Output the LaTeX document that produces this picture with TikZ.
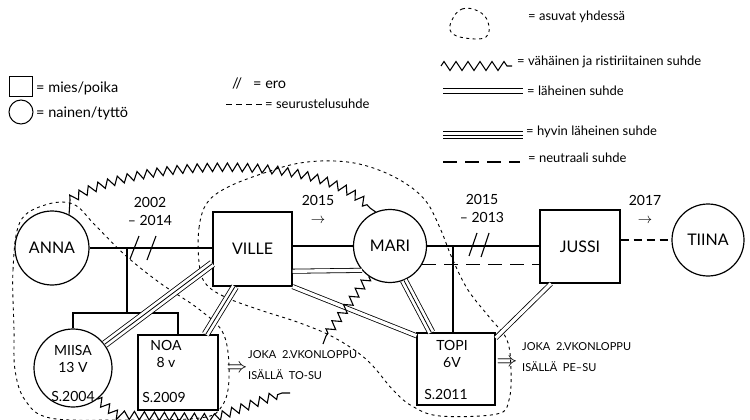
\documentclass[tikz,border=0pt]{standalone}
\usepackage{fontspec}
\setmainfont{Lato}
\usetikzlibrary{decorations.pathmorphing,calc}
\begin{document}
\begin{tikzpicture}[x=1pt,y=-1pt,
  person/.style={draw, line width=1.2pt, inner sep=0pt, font=\fontsize{16}{18}\selectfont, align=center},
  male/.style={person, rectangle},
  female/.style={person, circle},
  rel/.style={line width=1.1pt},
  closerel/.style={line width=0.8pt, double, double distance=3.4pt},
  triplerel/.style={line width=0.8pt, double, double distance=6.4pt},
  thinrel/.style={line width=0.8pt},
  zz/.style={decoration={zigzag, segment length=10pt, amplitude=4.2pt}},
  lives/.style={line width=0.9pt, dash pattern=on 3pt off 3.5pt},
  neutral/.style={line width=1.1pt, dash pattern=on 14pt off 8pt},
  dating/.style={line width=1.2pt, dash pattern=on 8pt off 5pt},
  lbl/.style={font=\fontsize{14}{18}\selectfont, align=center, inner sep=0pt},
  ann/.style={font=\fontsize{11}{13}\selectfont, anchor=west, inner sep=0pt},
  inlbl/.style={font=\fontsize{14}{17}\selectfont, align=center, inner sep=0pt},
  leg/.style={font=\fontsize{13}{14}\selectfont, anchor=west, inner sep=0pt},
  legl/.style={font=\fontsize{14.5}{15}\selectfont, anchor=west, inner sep=0pt},
  bigarrow/.style={font=\fontsize{20}{20}\selectfont, inner sep=0pt},
]
\useasboundingbox (0,0) rectangle (750,420);

% households (asuvat yhdessä)
\draw[lives] plot[smooth cycle, tension=0.6] coordinates {(14,330) (13,270) (20,222) (45,205) (73,204) (95,225) (125,255) (160,283) (200,310) (224,335) (229,378) (222,406) (200,418) (120,420) (50,418) (25,400) (15,370)};
\draw[lives] plot[smooth cycle, tension=0.6] coordinates {(199,262) (199,228) (207,203) (228,187) (267,172) (300,163) (335,161) (367,166) (400,180) (425,200) (440,228) (452,258) (468,290) (490,318) (507,340) (511,370) (509,400) (497,414) (440,416) (412,406) (393,390) (367,360) (335,338) (300,323) (260,310) (225,297) (205,283)};

% people
\node[female, minimum size=74pt] (anna) at (52,248) {ANNA};
\node[male, minimum width=79pt, minimum height=74pt] (ville) at (252.5,249) {VILLE};
\node[female, minimum size=73pt] (mari) at (390,246) {MARI};
\node[male, minimum width=80pt, minimum height=73pt] (jussi) at (580,246.5) {JUSSI};
\node[female, minimum size=72pt] (tiina) at (708,240) {TIINA};
\node[female, minimum size=78pt] (miisa) at (73,368) {};
\node[male, minimum width=80pt, minimum height=75pt] (noa) at (178,372.5) {};
\node[male, minimum width=78pt, minimum height=72pt] (topi) at (456,369) {};

\node[inlbl] (miisat) at (73,359) {MIISA\\13 V};
\node[inlbl] (miisab) at (73,396) {S.2004};
\node[inlbl] (noat) at (166,354) {NOA\\8 v};
\node[inlbl] (noab) at (164,397) {S.2009};
\node[inlbl] (topit) at (452,354) {TOPI\\6V};
\node[inlbl] (topib) at (446,394) {S.2011};

% marriages / dating
\draw[rel] (anna.east) -- (anna.east -| ville.west);
\draw[rel] (mari.west -| ville.east) -- (mari.west);
\draw[rel] (mari.east) -- (mari.east -| jussi.west);
\draw[dating] (tiina.west -| jussi.east) -- (tiina.west);
\draw[neutral] (mari.-30) -- (mari.-30 -| jussi.west);

% divorce marks
\draw[rel] (139,236) -- (130,259);
\draw[rel] (156,236) -- (147,260);
\draw[rel] (477,233) -- (469,256);
\draw[rel] (489,233) -- (481,257);

% children lines
\coordinate (annakids) at (127,248);
\coordinate (sibbar) at (127,313);
\draw[rel] (annakids) -- (sibbar);
\draw[rel] (miisa.north) -- (miisa.north |- sibbar) -- (noa.north |- sibbar) -- (noa.north);
\coordinate (marikids) at (453,246);
\draw[rel] (marikids) -- (marikids |- topi.north);

% close relations
\draw[closerel] (ville.-29) -- (mari.-139);
\draw[closerel] (ville.south east) -- (topi.140);
\draw[closerel] (jussi.232) -- (topi.38);
% very close relations
\foreach \a/\b in {ville.200/miisa, ville.245/noa.54, mari.-68/topi.124}{
  \draw[triplerel] (\a) -- (\b);
  \draw[thinrel] (\a) -- (\b);
}

% weak / conflicting relations
\coordinate (zzend) at (290,393);
\draw[rel] (anna.63) -- (70,200) decorate[zz]{.. controls (130,160) and (320,150) .. (370,208)} -- (mari.113);
\draw[rel] (mari.-125) decorate[zz]{-- (326,336)} -- (323,344);
\draw[rel] (miisa.-52) decorate[zz]{-- (117,415) -- (215,418) -- (282,393)} -- (zzend);

% year labels
\node[lbl] (y1) at (150,211) {2002\\– 2014};
\node[lbl] (y2) at (318,209) {2015\\$\rightarrow$};
\node[lbl] (y3) at (482,208) {2015\\– 2013};
\node[lbl] (y4) at (645,209) {2017\\$\rightarrow$};

% visiting notes
\node[bigarrow] (arr1) at (237,369) {$\Rightarrow$};
\node[ann] (note1a) at (248,355) {JOKA \ 2.VKONLOPPU};
\node[ann] (note1b) at (248,375) {ISÄLLÄ \ TO-SU};
\node[bigarrow] (arr2) at (507,363) {$\Rightarrow$};
\node[ann] (note2a) at (522,347) {JOKA \ 2.VKONLOPPU};
\node[ann] (note2b) at (522,367) {ISÄLLÄ \ PE–SU};

% legend left
\node[draw, line width=1pt, minimum width=23pt, minimum height=20pt, inner sep=0pt] (legsq) at (21,87) {};
\node[draw, circle, line width=1pt, minimum size=24pt, inner sep=0pt] (legci) at (21,112) {};
\node[legl] (legsqt) at (36,88) {= mies/poika};
\node[legl] (legcit) at (36,113) {= nainen/tyttö};
\node[legl] (legero) at (232,83) {// \ \ = ero};
\coordinate (legdA) at (226,104);
\coordinate (legdB) at (262,104);
\draw[line width=1pt, dash pattern=on 6pt off 4pt] (legdA) -- (legdB);
\node[leg] (legdt) at (265,104) {= seurustelusuhde};

% legend right
\draw[lives] plot[smooth cycle, tension=0.7] coordinates {(452,20) (462,9) (478,11) (488,22) (486,37) (465,38) (451,32)};
\node[leg] (leg1) at (528,17) {= asuvat yhdessä};
\coordinate (legzA) at (441,66);
\coordinate (legzB) at (512,66);
\draw[rel, decoration={zigzag, segment length=12pt, amplitude=4.5pt}, decorate] (legzA) -- (legzB);
\node[leg] (leg2) at (517,62) {= vähäinen ja ristiriitainen suhde};
\coordinate (legcA) at (443,89);
\coordinate (legcB) at (523,89);
\coordinate (legcC) at (443,94);
\coordinate (legcD) at (523,94);
\draw[thinrel, line width=1pt] (legcA) -- (legcB);
\draw[thinrel, line width=1pt] (legcC) -- (legcD);
\node[leg] (leg3) at (527,91) {= läheinen suhde};
\coordinate (legtA) at (443,135);
\coordinate (legtB) at (523,135);
\draw[triplerel] (legtA) -- (legtB);
\draw[thinrel] (legtA) -- (legtB);
\node[leg] (leg4) at (526,132) {= hyvin läheinen suhde};
\coordinate (legnA) at (443,162);
\coordinate (legnB) at (520,162);
\draw[neutral] (legnA) -- (legnB);
\node[leg] (leg5) at (528,158) {= neutraali suhde};
\end{tikzpicture}
\end{document}
